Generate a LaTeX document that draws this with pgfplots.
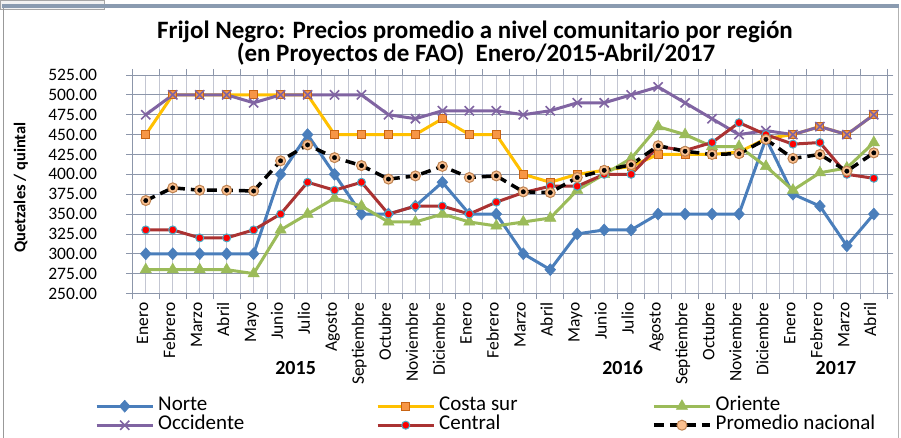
\documentclass[border=0pt]{standalone}
\usepackage{pgfplots}
\pgfplotsset{compat=1.18}
\usepackage{pgfplotstable}
\usepackage{fontspec}
\setmainfont{Carlito}
\definecolor{cnorte}{RGB}{74,126,187}
\definecolor{ccosta}{RGB}{255,192,0}
\definecolor{ccostaf}{RGB}{247,150,70}
\definecolor{ccostad}{RGB}{200,100,20}
\definecolor{corien}{RGB}{155,187,89}
\definecolor{coccid}{RGB}{128,100,162}
\definecolor{ccentral}{RGB}{170,50,50}
\definecolor{ccentralf}{RGB}{255,0,0}
\definecolor{ccentrald}{RGB}{75,172,198}
\definecolor{cpromf}{RGB}{250,192,144}
\definecolor{cpromd}{RGB}{190,130,80}
\definecolor{hgrid}{RGB}{140,150,170}
\definecolor{vbound}{RGB}{165,190,225}
\definecolor{vcenter}{RGB}{195,198,210}
\definecolor{framec}{RGB}{138,155,176}

\pgfplotstableread{
i norte costa oriente occid central prom
0 300 450 280 475 330 367
1 300 500 280 500 330 383
2 300 500 280 500 320 380
3 300 500 280 500 320 380
4 300 500 275 490 330 379
5 400 500 330 500 350 417
6 450 500 350 500 390 437
7 400 450 370 500 380 421
8 350 450 360 500 390 411
9 350 450 340 475 350 394
10 360 450 340 470 360 398
11 390 470 350 480 360 410
12 350 450 340 480 350 396
13 350 450 335 480 365 398
14 300 400 340 475 377 378
15 280 390 345 480 385 377
16 325 400 380 490 385 396
17 330 405 400 490 400 405
18 330 410 420 500 400 412
19 350 425 460 510 435 436
20 350 425 450 490 430 429
21 350 425 435 470 440 425
22 350 428 435 450 465 426
23 445 445 410 455 450 444
24 375 450 380 450 438 420
25 360 460 402 460 440 425
26 310 450 408 450 400 404
27 350 475 440 475 395 427
}\datatable

\begin{document}
\begin{tikzpicture}[x=1pt,y=1pt]
\path[use as bounding box] (0,0) rectangle (901,438);
\fill[white] (0,0) rectangle (901,438);
\draw[gray!70, fill=gray!10] (0.5,437.5) rectangle (104,429);
\draw[framec, line width=4pt] (2,431.5) -- (899,431.5);
\draw[gray!80, line width=1.5pt] (3.7,430) -- (3.7,0);
\draw[gray!60, line width=1pt] (898,430) -- (898,0);

\node[font=\bfseries\fontsize{25}{30}\selectfont] at (475,406) {Frijol Negro: Precios promedio a nivel comunitario por región};
\node[font=\bfseries\fontsize{25}{30}\selectfont] at (476,384) {(en Proyectos de FAO)\ \ Enero/2015-Abril/2017};
\node[rotate=90, font=\bfseries\fontsize{16.5}{20}\selectfont] at (21,250.5) {Quetzales / quintal};
\node[font=\bfseries\fontsize{20}{24}\selectfont] at (295.6,70) {2015};
\node[font=\bfseries\fontsize{20}{24}\selectfont] at (622.6,70) {2016};
\node[font=\bfseries\fontsize{20}{24}\selectfont] at (836,70) {2017};

\begin{axis}[
  at={(132.3pt,144.5pt)}, anchor=south west, scale only axis,
  width=755pt, height=218.5pt,
  xmin=-0.5, xmax=27.5, ymin=250, ymax=525,
  tick align=outside, major tick length=0pt, minor tick length=6pt,
  xtick={0,...,27}, minor xtick={-0.5,0.5,...,27.5},
  xticklabels={Enero,Febrero,Marzo,Abril,Mayo,Junio,Julio,Agosto,Septiembre,Octubre,Noviembre,Diciembre,Enero,Febrero,Marzo,Abril,Mayo,Junio,Julio,Agosto,Septiembre,Octubre,Noviembre,Diciembre,Enero,Febrero,Marzo,Abril},
  ytick={250,275,...,525}, minor ytick={250,275,...,525},
  xmajorgrids, xminorgrids, ymajorgrids,
  every axis x grid/.append style={draw=vcenter, line width=0.8pt},
  every axis y grid/.append style={draw=hgrid, line width=0.8pt},
  minor grid style={draw=vbound, line width=0.8pt},
  minor tick style={draw=hgrid, line width=0.8pt},
  axis line style={draw=hgrid, line width=0.8pt},
  yticklabel={\pgfmathprintnumber[fixed,fixed zerofill,precision=2,assume math mode=true]{\tick}},
  yticklabel style={font=\fontsize{17.5}{20}\selectfont, anchor=east, inner sep=0pt, xshift=-35pt},
  xticklabel style={font=\fontsize{17.5}{20}\selectfont, yshift=-9pt, rotate=90, anchor=mid east, inner sep=0pt},
  legend columns=3,
  legend cell align=left,
  legend style={at={(-0.0494,-0.4714)}, anchor=north west, draw=none, fill=none, inner sep=0pt, column sep=0pt, row sep=0pt, font=\fontsize{21}{24}\selectfont, nodes={inner xsep=4pt, inner ysep=0pt, text height=14pt, text depth=5pt}},
  legend image code/.code={\draw[mark repeat=2,mark phase=2,#1] plot coordinates {(0pt,0pt) (28pt,0pt) (56pt,0pt)};},
]
\addplot[cnorte, line width=3pt, mark=diamond*, mark size=6pt, mark options={solid, fill=cnorte, draw=cnorte, line width=0.5pt, xscale=1.2}] table[x=i,y=norte]{\datatable};
\addlegendentry{\makebox[214pt][l]{Norte}}
\addplot[ccosta, line width=3pt, mark=square*, mark size=4pt, mark options={solid, fill=ccostaf, draw=ccostad, line width=1pt}] table[x=i,y=costa]{\datatable};
\addlegendentry{\makebox[209pt][l]{Costa sur}}
\addplot[corien, line width=3pt, mark=triangle*, mark size=6.5pt, mark options={solid, fill=corien, draw=corien, line width=0.5pt}] table[x=i,y=oriente]{\datatable};
\addlegendentry{Oriente}
\addplot[coccid, line width=3pt, mark=x, mark size=6.5pt, mark options={solid, draw=coccid, line width=1.6pt}] table[x=i,y=occid]{\datatable};
\addlegendentry{\makebox[214pt][l]{Occidente}}
\addplot[ccentral, line width=3pt, mark=*, mark size=4pt, mark options={solid, fill=ccentralf, draw=ccentrald, line width=1pt}] table[x=i,y=central]{\datatable};
\addlegendentry{\makebox[209pt][l]{Central}}
\addplot[black, line width=3.5pt, dash pattern=on 10pt off 6pt, mark=*, mark size=5pt, mark options={solid, fill=cpromf, draw=cpromd, line width=1pt}] table[x=i,y=prom]{\datatable};
\addlegendentry{Promedio nacional}
\addplot[forget plot, only marks, black, mark=*, mark size=2.2pt] table[x=i,y=prom]{\datatable};
\end{axis}
\end{tikzpicture}
\end{document}
